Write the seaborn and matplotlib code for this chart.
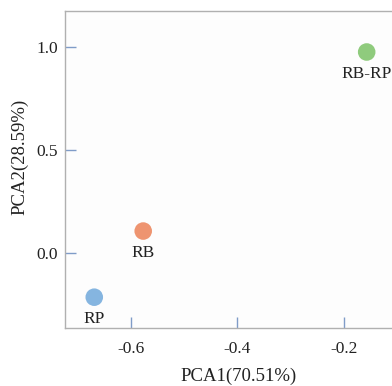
import matplotlib
matplotlib.use("Agg")
import matplotlib.pyplot as plt
import seaborn as sns
import pandas as pd

groups = ["RP", "RB", "RB-RP"]
pc1 = [-0.669, -0.577, -0.157]
pc2 = [-0.214, 0.107, 0.976]
colors = ["#85b5e0", "#ee9470", "#8fcb7d"]
xticks = [-0.6, -0.4, -0.2]
yticks = [0.0, 0.5, 1.0]

df = pd.DataFrame({"group": groups, "PC1": pc1, "PC2": pc2})

sns.set_style("white")
plt.rcParams["font.family"] = ["Liberation Serif", "DejaVu Serif"]

fig = plt.figure(figsize=(3.92, 3.86), dpi=100)
ax = fig.add_axes([0.1658, 0.150, 0.885, 0.8215])
sns.scatterplot(data=df, x="PC1", y="PC2", hue="group",
                palette=dict(zip(groups, colors)), s=160, edgecolor="none",
                legend=False, ax=ax)

for g, x, y in zip(groups, pc1, pc2):
    ax.annotate(g, (x, y), xytext=(0, -10), textcoords="offset points",
                ha="center", va="top", fontsize=12.5, color="#222222")

ax.set_xlim(-0.724, -0.072)
ax.set_ylim(-0.364, 1.175)
ax.set_xticks(xticks)
ax.set_yticks(yticks)
ax.set_xticklabels([f"{v:.1f}" for v in xticks])
ax.set_yticklabels([f"{v:.1f}" for v in yticks])
ax.tick_params(axis="both", direction="in", length=8, width=1,
               color="#7f9cc8", labelsize=12.5, labelcolor="#222222",
               bottom=True, left=True)
ax.tick_params(axis="x", pad=9)
ax.tick_params(axis="y", pad=5)
for sp in ax.spines.values():
    sp.set_color("#b0b0b0")
    sp.set_linewidth(1.0)
ax.set_xlabel("PCA1(70.51%)", fontsize=13.5, color="#222222", labelpad=8)
ax.set_ylabel("PCA2(28.59%)", fontsize=13.5, color="#222222")
ax.yaxis.set_label_coords(-0.106, 0.54)
ax.set_facecolor("#fdfdfd")
fig.patch.set_facecolor("white")

fig.savefig("out.png", dpi=100)
